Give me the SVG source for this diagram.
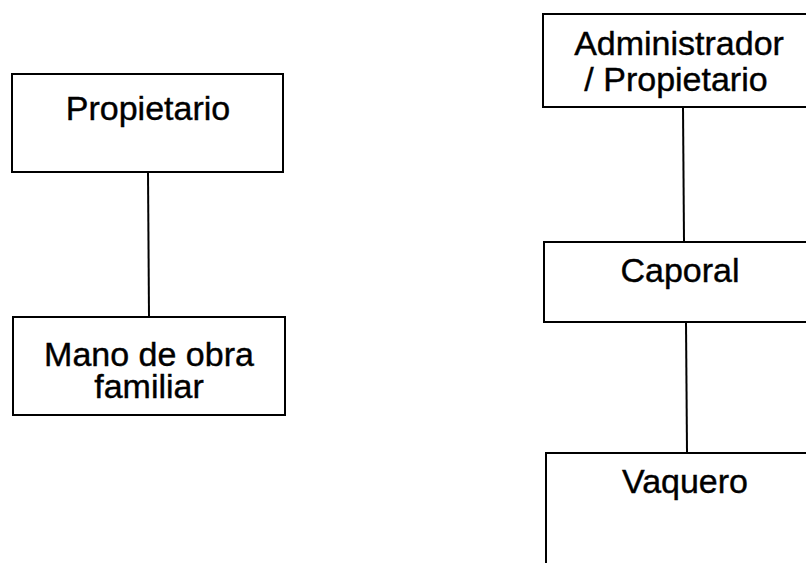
<svg xmlns="http://www.w3.org/2000/svg" width="806" height="563" viewBox="0 0 806 563">
<style>
.box{fill:#fff;stroke:#000;stroke-width:2}
.lbl{font-family:"Liberation Sans",Arial,sans-serif;font-size:34px;fill:#000;stroke:#000;stroke-width:0.4;text-anchor:middle}
.conn{stroke:#000;stroke-width:2;fill:none}
</style>
<rect width="806" height="563" fill="#fff"/>
<g id="connectors">
<line class="conn" x1="148" y1="172" x2="149" y2="317"/>
<line class="conn" x1="683" y1="107" x2="684" y2="242"/>
<line class="conn" x1="686" y1="322" x2="687" y2="453"/>
</g>
<g id="propietario">
<rect class="box" x="12" y="74" width="271" height="98"/>
<text class="lbl" x="148" y="120">Propietario</text>
</g>
<g id="mano-de-obra">
<rect class="box" x="13" y="317" width="272" height="98"/>
<text class="lbl" x="149" y="366">Mano de obra</text>
<text class="lbl" x="149" y="398">familiar</text>
</g>
<g id="administrador">
<rect class="box" x="543" y="14" width="280" height="93"/>
<text class="lbl" x="679" y="55">Administrador</text>
<text class="lbl" x="676" y="91">/ Propietario</text>
</g>
<g id="caporal">
<rect class="box" x="544" y="242" width="280" height="80"/>
<text class="lbl" x="680" y="282">Caporal</text>
</g>
<g id="vaquero">
<rect class="box" x="546" y="453" width="280" height="130"/>
<text class="lbl" x="685" y="493">Vaquero</text>
</g>
</svg>
